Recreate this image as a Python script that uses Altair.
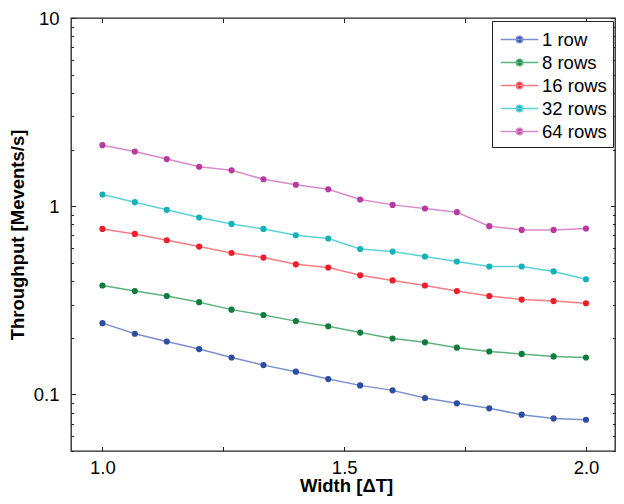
import altair as alt
import pandas as pd

widths = [1.0, 1.067, 1.133, 1.2, 1.267, 1.333, 1.4, 1.467, 1.533, 1.6,
          1.667, 1.733, 1.8, 1.867, 1.933, 2.0]
series_names = ["1 row", "8 rows", "16 rows", "32 rows", "64 rows"]
row1 = [0.239, 0.210, 0.191, 0.174, 0.157, 0.143, 0.132, 0.1206, 0.1116, 0.105,
        0.0956, 0.0896, 0.0843, 0.078, 0.0745, 0.0733]
row8 = [0.379, 0.354, 0.333, 0.309, 0.282, 0.264, 0.245, 0.230, 0.213, 0.198,
        0.189, 0.177, 0.169, 0.164, 0.159, 0.157]
row16 = [0.757, 0.712, 0.659, 0.610, 0.564, 0.533, 0.491, 0.472, 0.429, 0.403,
         0.379, 0.354, 0.333, 0.319, 0.313, 0.305]
row32 = [1.154, 1.050, 0.956, 0.871, 0.805, 0.757, 0.701, 0.673, 0.592, 0.574,
         0.540, 0.508, 0.478, 0.478, 0.450, 0.409]
row64 = [2.11, 1.95, 1.78, 1.62, 1.55, 1.39, 1.30, 1.23, 1.085, 1.016,
         0.972, 0.929, 0.783, 0.748, 0.748, 0.761]
dot_colors = ["#2d4ca2", "#0f7b3e", "#ee1d2b", "#12b2b6", "#b83a9e"]
line_colors = ["#7b8fd0", "#5db27f", "#f57d85", "#5dd3d6", "#d88bc8"]

x_label_values = [1.0, 1.5, 2.0]
x_tick_values = [1.0, 1.25, 1.5, 1.75, 2.0]
y_label_values = [0.1, 1, 10]
y_tick_values = [0.05, 0.06, 0.07, 0.08, 0.09,
                 0.1, 0.2, 0.3, 0.4, 0.5, 0.6, 0.7, 0.8, 0.9,
                 1, 2, 3, 4, 5, 6, 7, 8, 9, 10]

rows = []
for name, vals in zip(series_names, [row1, row8, row16, row32, row64]):
    for w, v in zip(widths, vals):
        rows.append({"width": w, "tp": v, "series": name})
df = pd.DataFrame(rows)

W, H = 544, 433
FONT = "Arial, Liberation Sans, sans-serif"
LABEL_FS = 18.5
TITLE_FS = 18.5

xscale = alt.Scale(domain=[0.935, 2.06], nice=False, zero=False)
yscale = alt.Scale(type="log", domain=[0.05, 10], nice=False)
fill_scale = alt.Scale(domain=series_names, range=dot_colors)
stroke_scale = alt.Scale(domain=series_names, range=line_colors)

major_test = "datum.value == 0.1 || datum.value == 1 || datum.value == 10"
ytick_size = {"condition": {"test": major_test, "value": 4.5}, "value": 2.5}

legend_path = ("M-1.6,0H1.6M-0.27,0A0.27,0.27,0,1,0,0.27,0"
               "A0.27,0.27,0,1,0,-0.27,0Z")


def make_legend():
    return alt.Legend(
        title=None, orient="none", legendX=421, legendY=3,
        symbolType=legend_path, symbolSize=550, symbolOpacity=1,
        symbolStrokeWidth=1.5, symbolOffset=9,
        labelFontSize=LABEL_FS, labelFont=FONT,
        labelColor="#000", labelOffset=10, padding=6, rowPadding=1,
        strokeColor="#222", fillColor="white")


def tick_axis(orient, offset, values, size):
    return alt.Axis(orient=orient, offset=offset, values=values,
                    labels=False, domain=False, grid=False, title=None,
                    tickSize=size, tickColor="#222", tickWidth=1)


base = alt.Chart(df)

# invisible layer: carries the fill legend and the inward ticks of top / right edges
ghost = base.mark_circle(opacity=0).encode(
    x=alt.X("width:Q", scale=xscale,
            axis=tick_axis("bottom", -H, x_tick_values, 4.5)),
    y=alt.Y("tp:Q", scale=yscale,
            axis=tick_axis("left", -W, y_tick_values, ytick_size)),
    fill=alt.Fill("series:N", scale=fill_scale, legend=make_legend()),
)

lines = base.mark_line(strokeWidth=1.5).encode(
    x=alt.X("width:Q", scale=xscale,
            axis=alt.Axis(orient="bottom", values=x_label_values, format=".1f",
                          ticks=False, domain=False, grid=False,
                          labelFontSize=LABEL_FS, labelFont=FONT, labelColor="#000",
                          labelPadding=7, title="Width [ΔT]",
                          titleFontSize=TITLE_FS, titleFont=FONT,
                          titleFontWeight="bold",
                          titleColor="#000", titleX=W / 2 + 3, titleY=40,
                          titleBaseline="alphabetic")),
    y=alt.Y("tp:Q", scale=yscale,
            axis=alt.Axis(orient="left", values=y_label_values, format="~g",
                          ticks=False, domain=False, grid=False,
                          labelFontSize=LABEL_FS, labelFont=FONT, labelColor="#000",
                          labelPadding=12, title="Throughput [Mevents/s]",
                          titleFontSize=TITLE_FS, titleFont=FONT,
                          titleFontWeight="bold",
                          titleColor="#000", titleX=-48, titleY=H / 2,
                          titleAngle=-90, titleBaseline="alphabetic",
                          titleAlign="center")),
    stroke=alt.Stroke("series:N", scale=stroke_scale, legend=make_legend()),
    detail="series:N",
)

points = base.mark_circle(size=38, opacity=1).encode(
    x=alt.X("width:Q", scale=xscale,
            axis=tick_axis("top", -H, x_tick_values, 4.5)),
    y=alt.Y("tp:Q", scale=yscale,
            axis=tick_axis("right", -W, y_tick_values, ytick_size)),
    fill=alt.Fill("series:N", scale=fill_scale, legend=None),
)

chart = alt.layer(ghost, lines, points).resolve_axis(
    x="independent", y="independent"
).properties(
    width=W, height=H,
    autosize=alt.AutoSizeParams(type="none"),
    padding={"left": 63, "top": 10, "right": 1, "bottom": 45},
    background="white",
).configure_view(
    stroke="#222", strokeWidth=1.3
)

chart.save("out.html", embed_options={"renderer": "svg", "actions": False})
